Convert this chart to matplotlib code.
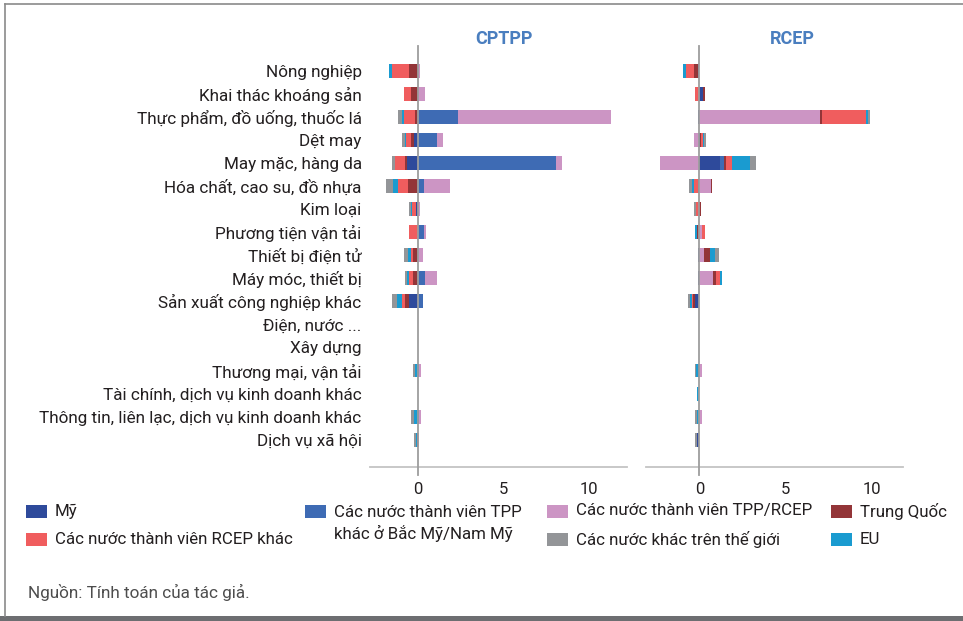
"""Stacked bar chart: CPTPP vs RCEP export effects by sector and partner."""
import numpy as np
import matplotlib
matplotlib.use("Agg")
import matplotlib.pyplot as plt
from matplotlib.patches import Rectangle
from matplotlib.lines import Line2D

plt.rcParams["font.family"] = ["Roboto", "DejaVu Sans"]

sectors = ["Nông nghiệp", "Khai thác khoáng sản", "Thực phẩm, đồ uống, thuốc lá",
           "Dệt may", "May mặc, hàng da", "Hóa chất, cao su, đồ nhựa", "Kim loại",
           "Phương tiện vận tải", "Thiết bị điện tử", "Máy móc, thiết bị",
           "Sản xuất công nghiệp khác", "Điện, nước ...", "Xây dựng",
           "Thương mại, vận tải", "Tài chính, dịch vụ kinh doanh khác",
           "Thông tin, liên lạc, dịch vụ kinh doanh khác", "Dịch vụ xã hội"]

series_names = ["Mỹ", "Các nước thành viên TPP\nkhác ở Bắc Mỹ/Nam Mỹ",
                "Các nước thành viên TPP/RCEP", "Trung Quốc",
                "Các nước thành viên RCEP khác", "EU", "Các nước khác trên thế giới"]
colors = ["#2e4a9b", "#3e6bb4", "#cc95c4", "#933538", "#f05d5e", "#1a9bd0", "#939598"]

# CPTPP
my_c   = [0, 0, 0, -0.19, -0.60, 0, -0.08, 0, 0, 0, -0.49, 0, 0, 0, 0, 0, 0]
tpp_c  = [0, 0, 2.37, 1.15, 8.09, 0.39, 0, 0.39, 0, 0.45, 0.33, 0, 0, 0.10, 0, 0.10, 0]
both_c = [0.16, 0.45, 8.92, 0.35, 0.35, 1.52, 0.16, 0.12, 0.33, 0.70, 0, 0, 0, 0.12, 0, 0.12, 0.10]
cn_c   = [-0.49, -0.37, -0.15, -0.17, -0.12, -0.54, 0, 0, -0.25, -0.25, -0.23, 0, 0, 0, 0, 0, -0.05]
rcep_c = [-0.99, -0.41, -0.62, -0.29, -0.58, -0.58, -0.23, -0.49, -0.12, -0.23, -0.17, 0, 0, 0, 0, 0, 0]
eu_c   = [-0.17, 0, -0.12, -0.06, 0, -0.29, -0.06, 0, -0.17, -0.12, -0.29, 0, 0, -0.14, 0, -0.20, -0.06]
row_c  = [0, 0, -0.23, -0.23, -0.17, -0.41, -0.12, 0, -0.23, -0.12, -0.29, 0, 0, -0.12, 0, -0.17, -0.12]

# RCEP
my_r   = [-0.10, 0.23, -0.06, 0.05, 1.21, -0.06, -0.05, 0, -0.06, -0.06, -0.23, 0, 0, -0.06, 0, 0, -0.12]
tpp_r  = [0, 0, 0, 0, 0.19, 0, 0, 0, 0, 0, 0, 0, 0, 0, 0, 0, 0]
both_r = [0, 0, 7.0, -0.29, -2.31, 0.69, 0, 0.15, 0.29, 0.81, 0, 0, 0, 0.17, 0, 0.12, 0]
cn_r   = [-0.19, 0.10, 0.12, 0.04, 0.15, 0.06, 0.10, -0.12, 0.35, 0.17, -0.12, 0, 0, 0, 0, 0, 0]
rcep_r = [-0.50, -0.23, 2.54, 0.13, 0.35, -0.23, -0.15, 0.15, 0, 0.23, -0.06, 0, 0, 0, 0, 0, 0]
eu_r   = [-0.19, 0, 0.12, 0.03, 1.04, -0.12, 0, -0.12, 0.29, 0.10, -0.12, 0, 0, -0.12, -0.12, -0.14, 0]
row_r  = [0, 0, 0.12, 0.13, 0.35, -0.17, -0.10, 0, 0.23, 0, -0.12, 0, 0, -0.06, 0, -0.12, -0.12]

panels = [("CPTPP", [my_c, tpp_c, both_c, cn_c, rcep_c, eu_c, row_c], (-2.78, 12.23)),
          ("RCEP", [my_r, tpp_r, both_r, cn_r, rcep_r, eu_r, row_r], (-3.13, 11.78))]

TXT = "#231f20"
fig = plt.figure(figsize=(9.63, 6.21), dpi=100)
y = np.arange(len(sectors))
ax_left = [370 / 963, 645.5 / 963]
bottom, height = 1 - 466.7 / 621, (466.7 - 46) / 621

for i, (name, data, xlim) in enumerate(panels):
    ax = fig.add_axes([ax_left[i], bottom, 257 / 963, height])
    pos = np.zeros(len(y))
    neg = np.zeros(len(y))
    for vals, col in zip(data, colors):
        v = np.array(vals, dtype=float)
        left = np.where(v >= 0, pos, neg)
        ax.barh(y, v, left=left, height=0.6, color=col, linewidth=0)
        pos += np.clip(v, 0, None)
        neg += np.clip(v, None, 0)
    ax.axvline(0, ymin=-0.02, ymax=1, color="#9d9d9d", lw=1.3, clip_on=False, zorder=3)
    ax.set_xlim(*xlim)
    ax.set_ylim(17.17, -1.075)
    for s in ["top", "right", "left"]:
        ax.spines[s].set_visible(False)
    ax.spines["bottom"].set_color("#c4c4c4")
    ax.spines["bottom"].set_linewidth(1.3)
    ax.set_xticks([0, 5, 10])
    ax.tick_params(axis="x", length=0, pad=11, labelsize=12, labelcolor=TXT)
    if i == 0:
        ax.set_yticks(y)
        ax.set_yticklabels(sectors)
        ax.tick_params(axis="y", length=0, pad=6, labelsize=12.3, labelcolor=TXT)
    else:
        ax.set_yticks([])
    title_x = [504, 792][i] / 963
    fig.text(title_x, 1 - 39 / 621, name, ha="center", va="center",
             fontsize=13, fontweight="bold", color="#4a7ebf")

# legend, laid out by hand in four columns
leg = [(0, 25.8, 511), (4, 25.8, 539), (1, 305, 511), (2, 547, 511),
       (6, 547, 539), (3, 831, 511), (5, 831, 539)]
for k, x0, yc in leg:
    fig.patches.append(Rectangle((x0 / 963, 1 - (yc + 6.5) / 621), 21 / 963, 13 / 621,
                                 transform=fig.transFigure, color=colors[k], lw=0))
    ty = yc if k != 1 else yc + 12.5
    fig.text((x0 + 29) / 963, 1 - ty / 621, series_names[k], ha="left", va="center",
             fontsize=12.2, color=TXT, linespacing=1.35)

fig.text(28 / 963, 1 - 592 / 621, "Nguồn: Tính toán của tác giả.", ha="left", va="center",
         fontsize=12.3, color="#4d4d4d")

# outer frame
fig.add_artist(Line2D([5 / 963, 1], [1 - 4 / 621] * 2, transform=fig.transFigure,
                      color="#8a8a8a", lw=1.2))
fig.add_artist(Line2D([5 / 963] * 2, [1 - 4 / 621, 5 / 621], transform=fig.transFigure,
                      color="#8a8a8a", lw=1.2))
fig.patches.append(Rectangle((0, 0), 1, 5 / 621, transform=fig.transFigure,
                             color="#6d6e71", lw=0))

fig.savefig("out.png", dpi=100)
